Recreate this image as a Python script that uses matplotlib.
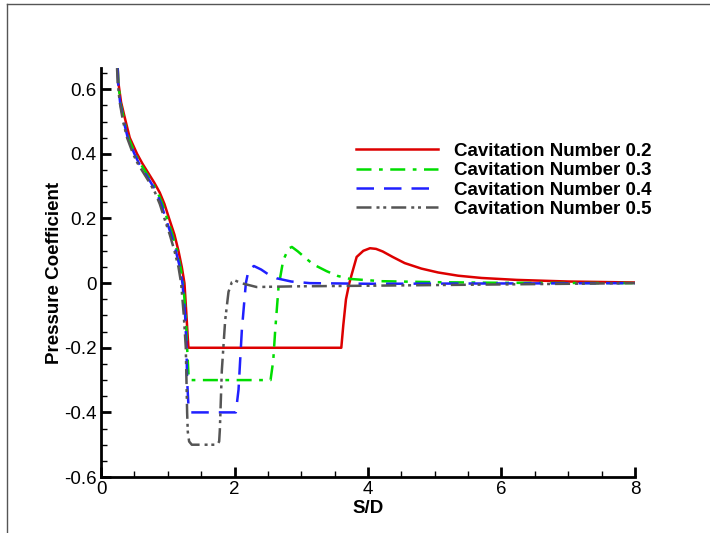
import matplotlib
matplotlib.use("Agg")
import matplotlib.pyplot as plt
from matplotlib.lines import Line2D
from matplotlib.ticker import MultipleLocator

plt.rcParams["font.family"] = ["Liberation Sans", "DejaVu Sans"]

# ---- data (S/D, Cp) ----
s_02 = [0.25, 0.26, 0.30, 0.37, 0.43, 0.54, 0.62, 0.71, 0.80, 0.88, 0.95, 1.02, 1.10,
        1.16, 1.21, 1.25, 1.28, 1.30, 1.31, 3.60, 3.63, 3.67, 3.72, 3.76, 3.83, 3.93,
        4.03, 4.12, 4.22, 4.37, 4.55, 4.80, 5.05, 5.35, 5.70, 6.23, 7.00, 8.00]
cp_02 = [0.665, 0.62, 0.56, 0.50, 0.45, 0.40, 0.37, 0.34, 0.31, 0.28, 0.245, 0.20, 0.15,
         0.10, 0.05, 0.0, -0.10, -0.17, -0.20, -0.20, -0.13, -0.05, 0.0, 0.03, 0.081, 0.10,
         0.108, 0.106, 0.098, 0.081, 0.062, 0.045, 0.033, 0.023, 0.016, 0.010, 0.005, 0.002]

s_03 = [0.25, 0.26, 0.29, 0.35, 0.41, 0.51, 0.59, 0.68, 0.77, 0.85, 0.92, 0.99, 1.07,
        1.14, 1.19, 1.23, 1.27, 1.29, 1.31, 1.33, 2.54, 2.58, 2.61, 2.66, 2.73, 2.81,
        2.86, 2.95, 3.05, 3.18, 3.38, 3.55, 3.73, 4.20, 5.00, 6.00, 8.00]
cp_03 = [0.665, 0.62, 0.56, 0.50, 0.45, 0.40, 0.37, 0.34, 0.31, 0.28, 0.245, 0.20, 0.15,
         0.10, 0.05, 0.0, -0.10, -0.20, -0.28, -0.30, -0.30, -0.24, -0.145, -0.011, 0.071, 0.107,
         0.112, 0.098, 0.080, 0.058, 0.037, 0.022, 0.013, 0.006, 0.003, 0.001, 0.0]

s_04 = [0.25, 0.255, 0.285, 0.34, 0.40, 0.50, 0.57, 0.66, 0.75, 0.83, 0.90, 0.97, 1.05,
        1.12, 1.18, 1.22, 1.26, 1.28, 1.29, 1.31, 1.34, 2.02, 2.06, 2.11, 2.17, 2.21,
        2.29, 2.40, 2.50, 2.63, 2.85, 3.13, 4.00, 6.00, 8.00]
cp_04 = [0.665, 0.62, 0.56, 0.50, 0.45, 0.40, 0.37, 0.34, 0.31, 0.28, 0.245, 0.20, 0.15,
         0.10, 0.05, 0.0, -0.10, -0.20, -0.30, -0.38, -0.40, -0.40, -0.33, -0.145, 0.0, 0.04,
         0.053, 0.042, 0.028, 0.015, 0.005, 0.0, -0.002, -0.001, 0.0]

s_05 = [0.24, 0.25, 0.28, 0.33, 0.39, 0.48, 0.55, 0.64, 0.73, 0.81, 0.88, 0.95, 1.03,
        1.10, 1.16, 1.20, 1.24, 1.27, 1.28, 1.29, 1.30, 1.32, 1.36, 1.74, 1.77, 1.78,
        1.81, 1.86, 1.91, 1.96, 2.01, 2.10, 2.33, 2.88, 4.00, 6.00, 8.00]
cp_05 = [0.665, 0.62, 0.56, 0.50, 0.45, 0.40, 0.37, 0.34, 0.31, 0.28, 0.245, 0.20, 0.15,
         0.10, 0.05, 0.0, -0.10, -0.20, -0.30, -0.40, -0.46, -0.49, -0.50, -0.50, -0.49, -0.455,
         -0.27, -0.115, -0.027, 0.003, 0.008, 0.0, -0.012, -0.010, -0.008, -0.004, 0.0]

labels = ["Cavitation Number 0.2", "Cavitation Number 0.3",
          "Cavitation Number 0.4", "Cavitation Number 0.5"]

fig = plt.figure(figsize=(7.10, 5.33), dpi=100, facecolor="white")
ax = fig.add_axes([0.1423, 0.105, 0.752, 0.767])

ax.plot(s_02, cp_02, color="#dd0000", lw=1.8, ls="-", label=labels[0])
ax.plot(s_03, cp_03, color="#00dd00", lw=1.8, dashes=(6, 3, 1.5, 3), label=labels[1])
ax.plot(s_04, cp_04, color="#2020ff", lw=1.8, dashes=(7, 4), label=labels[2])
ax.plot(s_05, cp_05, color="#555555", lw=1.8, dashes=(6, 2, 1.2, 1.5, 1.2, 2), label=labels[3])

ax.set_xlim(0, 8)
ax.set_ylim(-0.6, 0.665)
ax.xaxis.set_major_locator(MultipleLocator(2))
ax.xaxis.set_minor_locator(MultipleLocator(0.5))
ax.yaxis.set_major_locator(MultipleLocator(0.2))
ax.yaxis.set_minor_locator(MultipleLocator(0.05))
ax.yaxis.set_major_formatter(plt.FuncFormatter(lambda v, p: "0" if abs(v) < 1e-9 else f"{v:.1f}"))
ax.xaxis.set_major_formatter(plt.FuncFormatter(lambda v, p: f"{v:.0f}"))

for side in ("top", "right"):
    ax.spines[side].set_visible(False)
for side in ("left", "bottom"):
    ax.spines[side].set_linewidth(2.0)
ax.tick_params(which="major", direction="in", length=7, width=2, labelsize=13.5, pad=3)
ax.tick_params(which="minor", direction="in", length=4, width=1)

ax.set_xlabel("S/D", fontsize=13.5, fontweight="bold", labelpad=1)
ax.set_ylabel("Pressure Coefficient", fontsize=13.5, fontweight="bold", labelpad=1)

ax.legend(loc="upper left", bbox_to_anchor=(0.463, 0.836), frameon=False,
          prop={"size": 13.5, "weight": "bold"}, handlelength=4.4, handletextpad=0.85,
          labelspacing=0.12, borderaxespad=0)

# figure frame on top and left
fig.add_artist(Line2D([7 / 710, 7 / 710], [0, 1 - 4 / 533], color="#555555", lw=1.0))
fig.add_artist(Line2D([7 / 710, 1], [1 - 4 / 533, 1 - 4 / 533], color="#555555", lw=1.0))

fig.savefig("out.png", dpi=100)
